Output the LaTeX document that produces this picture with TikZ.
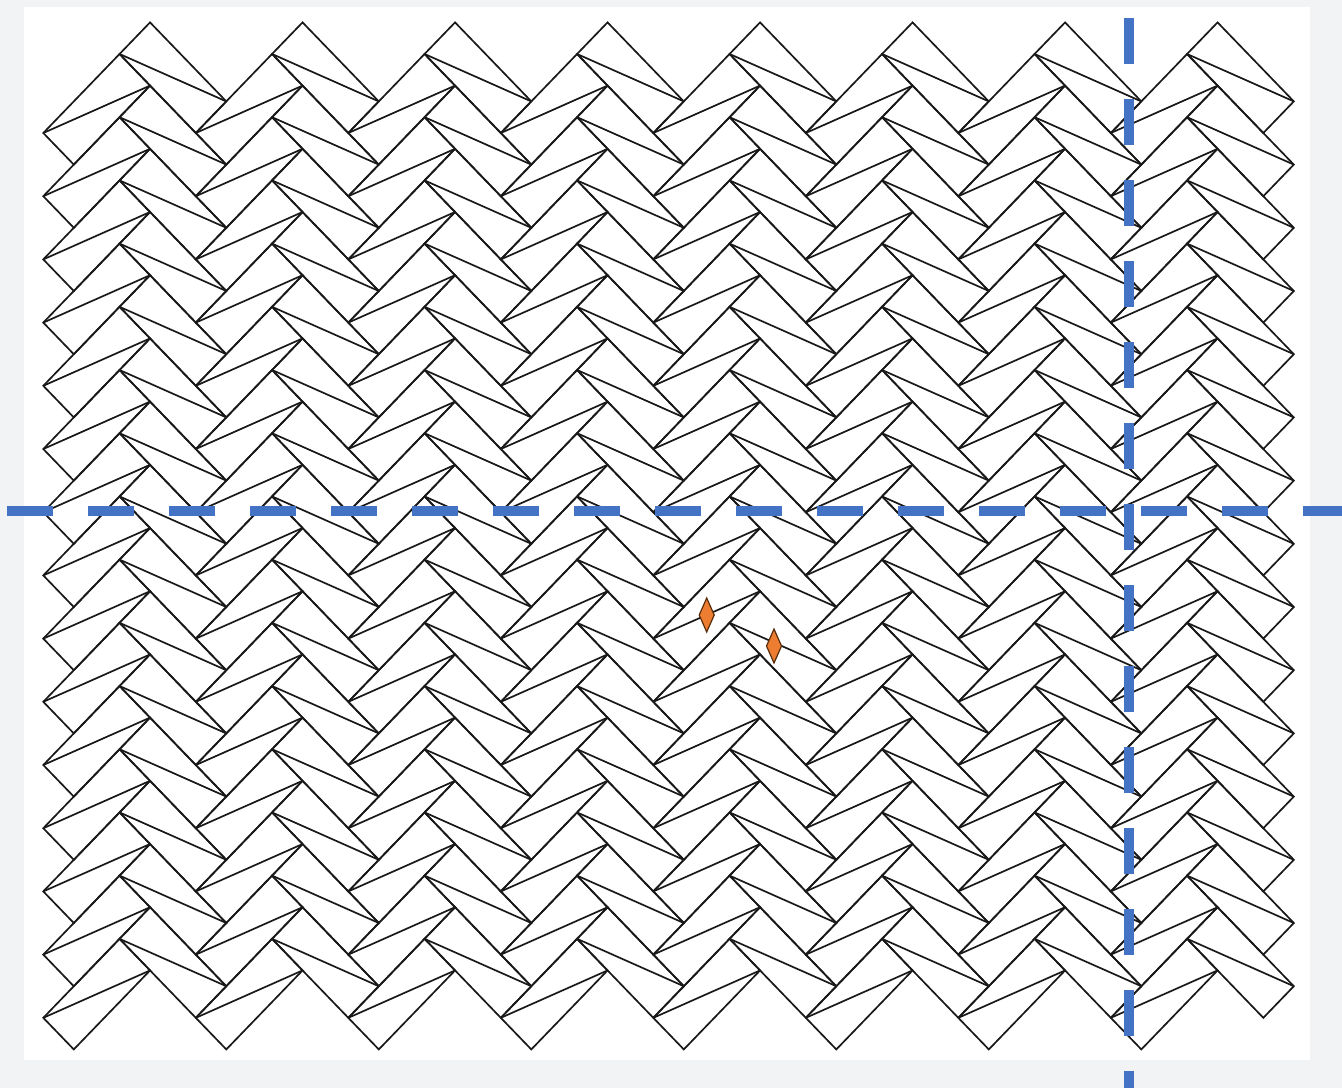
\documentclass[tikz,border=0pt]{standalone}
\usetikzlibrary{calc}
\definecolor{bgray}{RGB}{242,243,245}
\definecolor{dashblue}{RGB}{68,114,196}
\definecolor{dorange}{RGB}{237,125,49}
\definecolor{doutline}{RGB}{90,45,10}
\tikzset{
  tileline/.style={draw=black!90,line width=0.85pt,line join=miter},
  guideline/.style={draw=dashblue,line width=5pt,dash pattern=on 23pt off 17.5pt},
  marker/.style={fill=dorange,draw=doutline,line width=0.6pt}
}
\begin{document}
\begin{tikzpicture}[x=0.5pt,y=-0.5pt]
\useasboundingbox (0,0) rectangle (1342,1088);
\fill[bgray] (0,0) rectangle (1342,1088);
\fill[white] (24,7) rectangle (1310,1060);
\begin{scope}[shift={(43.3,133)},x=15.25pt,y=15.8pt]
\foreach \c in {0,...,7}{
  \foreach \k in {0,...,14}{
    \coordinate (P) at (5*\c,-2*\k);
    \coordinate (Q) at ($(P)+(3.5,3.5)$);
    % up-right tile
    \draw[tileline] (P) -- ++(2.5,2.5) -- ++(1,-1) -- ++(-2.5,-2.5) -- cycle;
    \draw[tileline] (P) -- ++(3.5,1.5);
    % down-right tile
    \draw[tileline] (Q) -- ++(2.5,-2.5) -- ++(-1,-1) -- ++(-2.5,2.5) -- cycle;
    \draw[tileline] ($(Q)+(-1,-1)$) -- ($(Q)+(2.5,-2.5)$);
  }
}
\end{scope}
\coordinate (hl) at (7,511);
\coordinate (hr) at (1342,511);
\coordinate (vt) at (1129,18);
\coordinate (vb) at (1129,1088);
\draw[guideline] (hl) -- (hr);
\draw[guideline] (vt) -- (vb);
\draw[marker] (706.7,598) -- (714.2,615) -- (706.7,632) -- (699.2,615) -- cycle;
\draw[marker] (774,629) -- (781.5,646) -- (774,663) -- (766.5,646) -- cycle;
\end{tikzpicture}
\end{document}
